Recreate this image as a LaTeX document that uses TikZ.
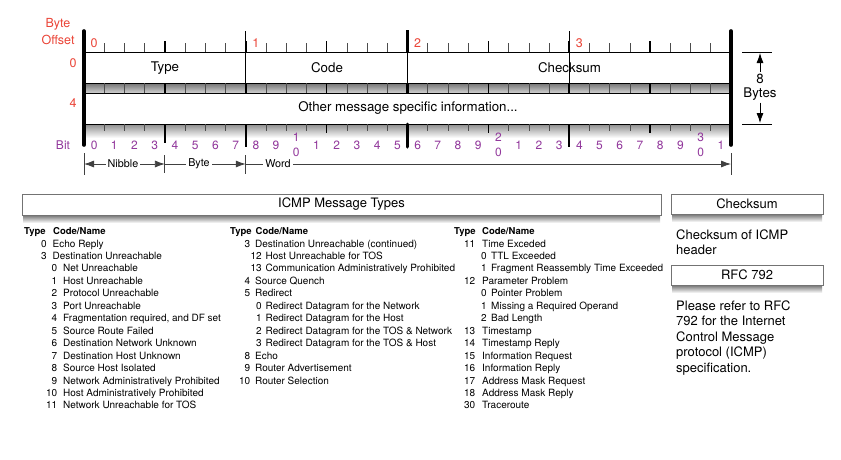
\documentclass[tikz,border=0pt]{standalone}
\usepackage{fontspec}
\setmainfont{TeX Gyre Heros}
\usetikzlibrary{arrows.meta}
\definecolor{offred}{RGB}{235,68,55}
\definecolor{bitpurple}{RGB}{146,56,156}
\tikzset{
  lbl/.style={inner sep=0pt, font=\fontsize{13.3}{15}\selectfont},
  offs/.style={inner sep=0pt, text=offred, font=\fontsize{12.5}{15}\selectfont},
  bitn/.style={inner sep=0pt, text=bitpurple, font=\fontsize{12}{14}\selectfont},
  brk/.style={inner sep=2pt, fill=white, font=\fontsize{10.8}{12}\selectfont},
  brkline/.style={black!75, line width=0.8pt},
  mytip/.tip={Latex[length=10pt,width=7pt]},
  tnum/.style={inner sep=0pt, anchor=mid east, font=\fontsize{10}{12}\selectfont},
  tname/.style={inner sep=0pt, anchor=mid west, font=\fontsize{10}{12}\selectfont},
  thead/.style={inner sep=0pt, anchor=mid west, font=\fontsize{9.5}{12}\selectfont\bfseries},
  hbox/.style={draw=black!55, line width=0.7pt, fill=white, inner sep=0pt, font=\fontsize{13}{15}\selectfont},
  para/.style={inner sep=0pt, anchor=base west, font=\fontsize{13}{15}\selectfont},
  smalltick/.style={black!70, line width=0.6pt},
  nibtick/.style={black, line width=1.6pt},
}
\newcommand\tabrow[6]{%
  \pgfmathsetmacro\rowy{232+12.45*#2}%
  \node[tnum] (#1n) at (#3,\rowy) {#5};%
  \node[tname] (#1t) at (#4,\rowy) {#6};%
}
\begin{document}
\begin{tikzpicture}[x=1pt,y=-1pt]
\useasboundingbox (0,0) rectangle (841,459);
\fill[white] (0,0) rectangle (841,459);

% ---------- header diagram ----------
\shade[top color=black!55, bottom color=black!18] (84,83) rectangle (731,93);
\shade[top color=black!45, bottom color=white] (84,124) rectangle (731,138);
\draw[line width=0.9pt, fill=white] (84,52) rectangle (731,83);
\draw[line width=0.9pt, fill=white] (84,93) rectangle (731,124);

\foreach \i in {1,...,31}{
  \pgfmathsetmacro\xx{84+\i*20.21875}
  \pgfmathtruncatemacro\mm{mod(\i,4)}
  \ifnum\mm=0
    \draw[nibtick] (\xx,41) -- (\xx,52);
    \draw[nibtick] (\xx,83) -- (\xx,93);
    \draw[nibtick] (\xx,124) -- (\xx,133);
  \else
    \draw[smalltick] (\xx,43) -- (\xx,52);
    \draw[smalltick] (\xx,83) -- (\xx,93);
    \draw[smalltick] (\xx,124) -- (\xx,131);
  \fi
}
% bit 4 longer tick below
\draw[nibtick] (164.875,124) -- (164.875,143);
% byte boundaries 8 and 24
\foreach \xx in {245.75,569.25}{
  \draw[line width=1.3pt] (\xx,31) -- (\xx,52);
  \draw[line width=1pt] (\xx,52) -- (\xx,83);
  \draw[line width=1.8pt] (\xx,83) -- (\xx,93);
  \draw[line width=1.8pt] (\xx,124) -- (\xx,147);
}
% word boundary 16
\draw[line width=3pt] (407.5,30) -- (407.5,52);
\draw[line width=1pt] (407.5,52) -- (407.5,83);
\draw[line width=3pt] (407.5,83) -- (407.5,93);
\draw[line width=3pt, line cap=round] (407.5,124) -- (407.5,147);
% outer bars
\draw[line width=3.6pt, line cap=round] (84,31) -- (84,145);
\draw[line width=3.6pt, line cap=round] (731,31) -- (731,145);

% byte offset labels
\node[offs] (bo1) at (58,24) {Byte};
\node[offs] (bo2) at (58,40) {Offset};
\node[offs] (r0) at (73,63) {0};
\node[offs] (r4) at (73,103) {4};
\node[offs] (o0) at (94.1,43) {0};
\node[offs] (o1) at (255.9,43) {1};
\node[offs] (o2) at (417.6,43) {2};
\node[offs] (o3) at (579.4,43) {3};

% field names
\node[lbl] (ftype) at (165,68) {Type};
\node[lbl] (fcode) at (327,68) {Code};
\node[lbl] (fcks) at (569.5,68) {Checksum};
\node[lbl] (fother) at (408,108) {Other message specific information...};

% bit numbers
\node[bitn] (bitlbl) at (63,145) {Bit};
\foreach \i in {0,...,31}{
  \pgfmathsetmacro\xx{84+(\i+0.5)*20.21875}
  \pgfmathtruncatemacro\dn{mod(\i,10)}
  \pgfmathtruncatemacro\tn{div(\i,10)}
  \pgfmathtruncatemacro\st{(\dn==0 && \i>0) ? 1 : 0}
  \ifnum\st=1
    \node[bitn] (bt\i) at (\xx,137) {\tn};
    \node[bitn] (bb\i) at (\xx,152) {0};
  \else
    \node[bitn] (b\i) at (\xx,145) {\dn};
  \fi
}

% nibble / byte / word brackets
\coordinate (k0) at (84,164);
\coordinate (k4) at (164.875,164);
\coordinate (k8) at (245.75,164);
\coordinate (k32) at (731,164);
\draw[brkline] (84,153) -- (84,175);
\draw[brkline] (164.875,155) -- (164.875,173);
\draw[brkline] (245.75,155) -- (245.75,174);
\draw[brkline] (731,153) -- (731,175);
\draw[brkline, mytip-mytip] (k0) -- (k4);
\draw[brkline, -mytip] (k4) -- (k8);
\draw[brkline, -mytip] (k8) -- (k32);
\node[brk] (nib) at (123,164) {Nibble};
\node[brk] (byt) at (199,164) {Byte};
\node[brk] (wrd) at (278,164) {Word};

% 8 bytes
\draw[line width=0.8pt] (742,52) -- (772,52);
\draw[line width=0.8pt] (742,124) -- (772,124);
\coordinate (etop) at (760,53);
\coordinate (ebot) at (760,123);
\node[lbl, inner sep=2pt] (eight) at (760,79) {8};
\node[lbl, inner sep=2pt] (bytes) at (760,94) {Bytes};
\draw[line width=0.8pt, -mytip] (eight.north) -- (etop);
\draw[line width=0.8pt, -mytip] (bytes.south) -- (ebot);

% ---------- lower section ----------
\shade[top color=black!55, bottom color=white] (23,215) rectangle (660,223);
\shade[top color=black!55, bottom color=white] (672,214) rectangle (822,222);
\shade[top color=black!55, bottom color=white] (672,285) rectangle (822,293);
\node[hbox, minimum width=639pt, minimum height=21pt] (hdr) at (341.5,204.5) {ICMP Message Types};
\node[hbox, minimum width=152pt, minimum height=20pt] (ckhdr) at (747,204) {Checksum};
\node[hbox, minimum width=152pt, minimum height=20pt] (rfchdr) at (747,275) {RFC 792};

\node[para] (ck1) at (676,239) {Checksum of ICMP};
\node[para] (ck2) at (676,254.5) {header};
\node[para] (rf1) at (676,310) {Please refer to RFC};
\node[para] (rf2) at (676,325.5) {792 for the Internet};
\node[para] (rf3) at (676,341) {Control Message};
\node[para] (rf4) at (676,356.5) {protocol (ICMP)};
\node[para] (rf5) at (676,372) {specification.};

% column 1
\node[thead] (h1a) at (24,232) {Type};
\node[thead] (h1b) at (53,232) {Code/Name};
\tabrow{a1}{1}{47}{52.5}{0}{Echo Reply}
\tabrow{a2}{2}{47}{52.5}{3}{Destination Unreachable}
\tabrow{a3}{3}{57.5}{63}{0}{Net Unreachable}
\tabrow{a4}{4}{57.5}{63}{1}{Host Unreachable}
\tabrow{a5}{5}{57.5}{63}{2}{Protocol Unreachable}
\tabrow{a6}{6}{57.5}{63}{3}{Port Unreachable}
\tabrow{a7}{7}{57.5}{63}{4}{Fragmentation required, and DF set}
\tabrow{a8}{8}{57.5}{63}{5}{Source Route Failed}
\tabrow{a9}{9}{57.5}{63}{6}{Destination Network Unknown}
\tabrow{a10}{10}{57.5}{63}{7}{Destination Host Unknown}
\tabrow{a11}{11}{57.5}{63}{8}{Source Host Isolated}
\tabrow{a12}{12}{57.5}{63}{9}{Network Administratively Prohibited}
\tabrow{a13}{13}{57.5}{63}{10}{Host Administratively Prohibited}
\tabrow{a14}{14}{57.5}{63}{11}{Network Unreachable for TOS}

% column 2
\node[thead] (h2a) at (230,232) {Type};
\node[thead] (h2b) at (255.5,232) {Code/Name};
\tabrow{b1}{1}{250.5}{255}{3}{Destination Unreachable (continued)}
\tabrow{b2}{2}{262}{265.5}{12}{Host Unreachable for TOS}
\tabrow{b3}{3}{262}{265.5}{13}{Communication Administratively Prohibited}
\tabrow{b4}{4}{250.5}{255}{4}{Source Quench}
\tabrow{b5}{5}{250.5}{255}{5}{Redirect}
\tabrow{b6}{6}{262}{265.5}{0}{Redirect Datagram for the Network}
\tabrow{b7}{7}{262}{265.5}{1}{Redirect Datagram for the Host}
\tabrow{b8}{8}{262}{265.5}{2}{Redirect Datagram for the TOS \& Network}
\tabrow{b9}{9}{262}{265.5}{3}{Redirect Datagram for the TOS \& Host}
\tabrow{b10}{10}{250.5}{255}{8}{Echo}
\tabrow{b11}{11}{250.5}{255}{9}{Router Advertisement}
\tabrow{b12}{12}{250.5}{255}{10}{Router Selection}

% column 3
\node[thead] (h3a) at (454,232) {Type};
\node[thead] (h3b) at (482,232) {Code/Name};
\tabrow{c1}{1}{475.5}{482}{11}{Time Exceded}
\tabrow{c2}{2}{487}{491}{0}{TTL Exceeded}
\tabrow{c3}{3}{487}{491}{1}{Fragment Reassembly Time Exceeded}
\tabrow{c4}{4}{475.5}{482}{12}{Parameter Problem}
\tabrow{c5}{5}{487}{491}{0}{Pointer Problem}
\tabrow{c6}{6}{487}{491}{1}{Missing a Required Operand}
\tabrow{c7}{7}{487}{491}{2}{Bad Length}
\tabrow{c8}{8}{475.5}{482}{13}{Timestamp}
\tabrow{c9}{9}{475.5}{482}{14}{Timestamp Reply}
\tabrow{c10}{10}{475.5}{482}{15}{Information Request}
\tabrow{c11}{11}{475.5}{482}{16}{Information Reply}
\tabrow{c12}{12}{475.5}{482}{17}{Address Mask Request}
\tabrow{c13}{13}{475.5}{482}{18}{Address Mask Reply}
\tabrow{c14}{14}{475.5}{482}{30}{Traceroute}
\end{tikzpicture}
\end{document}
